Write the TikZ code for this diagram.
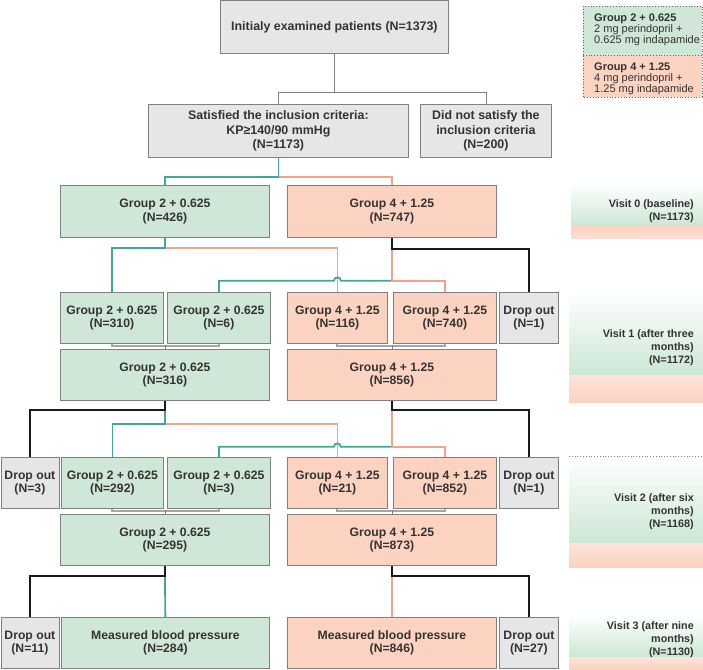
\documentclass[tikz,border=0pt]{standalone}
\usepackage{fontspec}
\setmainfont{Liberation Sans}
\usetikzlibrary{calc}
\definecolor{gfill}{HTML}{CFE7D6}
\definecolor{ofill}{HTML}{FCD3C1}
\definecolor{xfill}{HTML}{E6E6E8}
\definecolor{bordc}{HTML}{808080}
\definecolor{txt}{HTML}{333333}
\definecolor{tealc}{HTML}{3FA98F}
\definecolor{orac}{HTML}{F5A388}
\definecolor{blk}{HTML}{1A1A1A}
\definecolor{vgreen}{HTML}{CBE7D4}
\definecolor{vorange}{HTML}{FBD2C0}
\begin{document}
\begin{tikzpicture}[x=1pt,y=-1pt,
  box/.style={draw=bordc, line width=0.8pt, align=center, font=\bfseries\fontsize{12.2}{13.5}\selectfont, text=txt, inner sep=1pt, anchor=north west},
  gbox/.style={box, fill=gfill}, obox/.style={box, fill=ofill}, xbox/.style={box, fill=xfill},
  sz/.style 2 args={minimum width=#1pt, minimum height=#2pt},
  tl/.style={draw=tealc, line width=1.8pt},
  ol/.style={draw=orac, line width=1.8pt},
  bl/.style={draw=blk, line width=2pt},
  gl/.style={draw=bordc, line width=0.8pt},
  brk/.style={draw=gray!70, line width=2pt},
  vtext/.style={align=right, font=\bfseries\fontsize{10.8}{13}\selectfont, text=txt, inner sep=0pt},
  ltext/.style={align=left, font=\fontsize{11}{11}\selectfont, text=txt, inner sep=0pt, anchor=north west},
  topfont/.style={font=\bfseries\fontsize{12.4}{14.2}\selectfont}
]
\useasboundingbox (0,0) rectangle (703,669);

% ---- right panels ----
\shade[top color=white, bottom color=vgreen] (571,183) rectangle (703,226);
\shade[top color=vorange, bottom color=vorange!70] (571,226) rectangle (703,238);
\node[vtext, anchor=north east] (v0) at (694,199) {Visit 0 (baseline)\\(N=1173)};

\shade[top color=white, bottom color=vgreen] (569,292) rectangle (703,375);
\shade[top color=vorange!60, bottom color=vorange] (569,375) rectangle (703,402);
\node[vtext, anchor=north east] (v1) at (694,329) {Visit 1 (after three\\months)\\(N=1172)};

\shade[top color=white, bottom color=vgreen] (569,456) rectangle (703,543);
\shade[top color=vorange!60, bottom color=vorange] (569,543) rectangle (703,567);
\draw[bordc, dotted, line width=0.8pt] (569,456) -- (703,456);
\node[vtext, anchor=north east] (v2) at (694,493) {Visit 2 (after six\\months)\\(N=1168)};

\shade[top color=white, bottom color=vgreen] (569,615) rectangle (703,657);
\shade[top color=vorange!60, bottom color=vorange] (569,657) rectangle (703,669);
\node[vtext, anchor=north east] (v3) at (694,621) {Visit 3 (after nine\\months)\\(N=1130)};

% ---- legend ----
\fill[gfill] (583,6) rectangle (702,55);
\fill[ofill] (583,55) rectangle (702,97);
\draw[bordc!80!black, dotted, line width=0.8pt] (583,6) rectangle (702,97);
\draw[bordc!80!black, dotted, line width=0.8pt] (583,55) -- (702,55);
\node[ltext] (lg2) at (594,14) {\textbf{Group 2 + 0.625}\\2 mg perindopril +\\0.625 mg indapamide};
\node[ltext] (lg4) at (594,63) {\textbf{Group 4 + 1.25}\\4 mg perindopril +\\1.25 mg indapamide};

% ---- boxes ----
\node[xbox, sz={228}{53}, topfont] (init) at (220,0.5) {Initialy examined patients (N=1373)};
\node[xbox, sz={260}{53}, topfont] (sat) at (148,104) {Satisfied the inclusion criteria:\\KP≥140/90 mmHg\\(N=1173)};
\node[xbox, sz={131}{53}, topfont] (dn) at (420,104) {Did not satisfy the\\inclusion criteria\\(N=200)};

\node[gbox, sz={209}{52}] (g426) at (60,185) {Group 2 + 0.625\\(N=426)};
\node[obox, sz={209}{52}] (g747) at (287,185) {Group 4 + 1.25\\(N=747)};

\node[gbox, sz={103}{51}] (g310) at (60,292) {Group 2 + 0.625\\(N=310)};
\node[gbox, sz={103}{51}] (g6) at (167,292) {Group 2 + 0.625\\(N=6)};
\node[obox, sz={100}{51}] (g116) at (287,292) {Group 4 + 1.25\\(N=116)};
\node[obox, sz={103}{51}] (g740) at (393,292) {Group 4 + 1.25\\(N=740)};
\node[xbox, sz={59}{51}] (d1a) at (499,292) {Drop out\\(N=1)};

\node[gbox, sz={209}{51}] (g316) at (60,349) {Group 2 + 0.625\\(N=316)};
\node[obox, sz={209}{51}] (g856) at (287,349) {Group 4 + 1.25\\(N=856)};

\node[xbox, sz={58}{51}] (d3) at (0.5,457) {Drop out\\(N=3)};
\node[gbox, sz={102}{51}] (g292) at (61,457) {Group 2 + 0.625\\(N=292)};
\node[gbox, sz={103}{51}] (g3) at (167,457) {Group 2 + 0.625\\(N=3)};
\node[obox, sz={100}{51}] (g21) at (287,457) {Group 4 + 1.25\\(N=21)};
\node[obox, sz={103}{51}] (g852) at (393,457) {Group 4 + 1.25\\(N=852)};
\node[xbox, sz={59}{51}] (d1b) at (499,457) {Drop out\\(N=1)};

\node[gbox, sz={209}{51}] (g295) at (60,514) {Group 2 + 0.625\\(N=295)};
\node[obox, sz={209}{51}] (g873) at (287,514) {Group 4 + 1.25\\(N=873)};

\node[xbox, sz={58}{51}] (d11) at (0.5,617) {Drop out\\(N=11)};
\node[gbox, sz={208}{51}] (m284) at (61,617) {Measured blood pressure\\(N=284)};
\node[obox, sz={209}{51}] (m846) at (287,617) {Measured blood pressure\\(N=846)};
\node[xbox, sz={59}{51}] (d27) at (499,617) {Drop out\\(N=27)};

% ---- connectors ----
\draw[gl] (init.south) -- ++(0,38) -| (sat.north);
\draw[gl] (init.south) ++(0,38) -| (dn.north);

\draw[ol] (sat.south) ++(0,19) -| (g747.north);
\draw[tl] (sat.south) -- ++(0,19) -| (g426.north);

% level 2 -> 3
\draw[ol] (g426.south) ++(0,10) -| (g116.north);
\draw[tl] (g426.south) -- ++(0,10) -| (g310.north);
\coordinate (h1) at ($(g747.south)+(0,43)$);
\draw[tl] (h1) -- ([xshift=3.5pt]g116.north |- h1) .. controls +(0,-4.5) and +(0,-4.5) .. ([xshift=-3.5pt]g116.north |- h1) -- (g6.north |- h1) -- (g6.north);
\draw[ol] (g747.south) ++(0,11) -- ++(0,32) -| (g740.north);
\draw[bl] (g747.south) -- ++(0,11) -| (d1a.north);

% brackets
\draw[brk] (g310.south) -- ++(0,2.5) -| (g6.south);
\draw[gl] (g316.north) -- ++(0,-4.5);
\draw[brk] (g116.south) -- ++(0,2.5) -| (g740.south);
\draw[gl] (g856.north) -- ++(0,-4.5);

% level 4 -> 5
\draw[ol] (g316.south) ++(0,23) -| (g21.north);
\draw[tl] (g316.south) ++(0,9) -- ++(0,14) -| (g292.north);
\draw[bl] (g316.south) -- ++(0,9) -| (d3.north);
\coordinate (h2) at ($(g856.south)+(0,46)$);
\draw[tl] (h2) -- ([xshift=3.5pt]g21.north |- h2) .. controls +(0,-4.5) and +(0,-4.5) .. ([xshift=-3.5pt]g21.north |- h2) -- (g3.north |- h2) -- (g3.north);
\draw[ol] (g856.south) ++(0,9) -- ++(0,37) -| (g852.north);
\draw[bl] (g856.south) -- ++(0,9) -| (d1b.north);

% brackets
\draw[brk] (g292.south) -- ++(0,2.5) -| (g3.south);
\draw[gl] (g295.north) -- ++(0,-4.5);
\draw[brk] (g21.south) -- ++(0,2.5) -| (g852.south);
\draw[gl] (g873.north) -- ++(0,-4.5);

% level 6 -> 7
\draw[tl] (g295.south) ++(0,10) -- (m284.north);
\draw[bl] (g295.south) -- ++(0,10) -| (d11.north);
\draw[ol] (g873.south) ++(0,10) -- (m846.north);
\draw[bl] (g873.south) -- ++(0,10) -| (d27.north);
\end{tikzpicture}
\end{document}
